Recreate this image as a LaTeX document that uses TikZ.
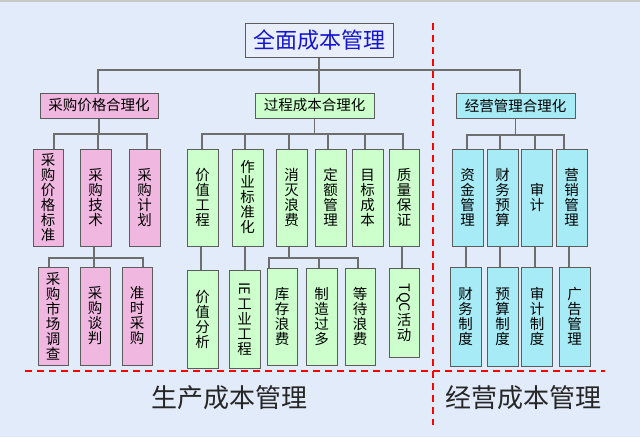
\documentclass[tikz,border=0pt]{standalone}
\usepackage{fontspec}
\usepackage{graphicx}
\setmainfont{Noto Sans CJK SC}
\definecolor{bgc}{HTML}{E2EBFA}
\definecolor{topfill}{HTML}{E8EFFB}
\definecolor{pinkc}{HTML}{F0B8E0}
\definecolor{greenc}{HTML}{CCFFCC}
\definecolor{cyanc}{HTML}{A6EBF5}
\definecolor{boxline}{HTML}{5C5C5C}
\definecolor{connc}{HTML}{6E6E6E}
\definecolor{topblue}{HTML}{1414D2}
\begin{document}
\begin{tikzpicture}[x=1pt,y=-1pt,
  box/.style={draw=boxline,line width=1pt,inner sep=0pt,align=center,
    font=\fontsize{14.5}{15}\selectfont},
  hb/.style={box,minimum width=119pt,minimum height=25pt},
  vb/.style={box,minimum width=31pt,minimum height=97pt},
  pk/.style={fill=pinkc},
  gr/.style={fill=greenc},
  cy/.style={fill=cyanc},
  conn/.style={draw=connc,line width=1.3pt},
  reddash/.style={draw=red,line width=2.2pt,dash pattern=on 7pt off 5pt},
  bottomlabel/.style={font=\fontsize{26}{26}\selectfont,text=black!85,inner sep=0pt}]
\useasboundingbox (0,0) rectangle (640,437);
\fill[bgc] (0,0) rectangle (640,437);
\fill[black!22] (0,0) rectangle (640,2);

% top
\node[box,fill=topfill,minimum width=148pt,minimum height=34pt,
  font=\fontsize{22}{22}\selectfont,text=topblue] (top) at (319,40) {全面成本管理};

% level 2
\node[hb,pk,minimum width=118pt] (cg) at (99,105.5) {采购价格合理化};
\node[hb,gr] (gc) at (314.5,105.5) {过程成本合理化};
\node[hb,cy] (jy) at (515.5,105.5) {经营管理合理化};

% level 3 pink
\node[vb,pk,minimum width=30pt] (p1) at (48,197.5) {采\\购\\价\\格\\标\\准};
\node[vb,pk] (p2) at (95.5,197.5) {采\\购\\技\\术};
\node[vb,pk] (p3) at (144.5,197.5) {采\\购\\计\\划};
% level 3 green
\node[vb,gr] (g1) at (202.5,197.5) {价\\值\\工\\程};
\node[vb,gr] (g2) at (247.5,197.5) {作\\业\\标\\准\\化};
\node[vb,gr] (g3) at (291.5,197.5) {消\\灭\\浪\\费};
\node[vb,gr] (g4) at (330.5,197.5) {定\\额\\管\\理};
\node[vb,gr] (g5) at (367.5,197.5) {目\\标\\成\\本};
\node[vb,gr,minimum width=30pt] (g6) at (404,197.5) {质\\量\\保\\证};
% level 3 cyan
\node[vb,cy] (c1) at (467.5,197.5) {资\\金\\管\\理};
\node[vb,cy] (c2) at (502.5,197.5) {财\\务\\预\\算};
\node[vb,cy] (c3) at (537,197.5) {审\\计};
\node[vb,cy] (c4) at (571.5,197.5) {营\\销\\管\\理};

% level 4 pink
\node[vb,pk,minimum width=30pt,minimum height=98pt] (q1) at (53,316) {采\\购\\市\\场\\调\\查};
\node[vb,pk,minimum width=30pt,minimum height=98pt] (q2) at (95,316) {采\\购\\谈\\判};
\node[vb,pk,minimum width=30pt,minimum height=98pt] (q3) at (137,316) {准\\时\\采\\购};
% level 4 green
\node[vb,gr,minimum height=98pt] (h1) at (202.5,319) {价\\值\\分\\析};
\node[vb,gr,minimum height=98pt] (h2) at (244.5,319) {\rotatebox[origin=c]{-90}{IE}\\工\\业\\工\\程};
\node[vb,gr,minimum width=30pt] (h3) at (282,316.5) {库\\存\\浪\\费};
\node[vb,gr] (h4) at (321.5,316.5) {制\\造\\过\\多};
\node[vb,gr,minimum width=30pt] (h5) at (360,316.5) {等\\待\\浪\\费};
\node[vb,gr,minimum width=30pt,minimum height=89pt] (h6) at (404,312.5) {\rotatebox[origin=c]{-90}{TQC}\\活\\动};
% level 4 cyan
\node[vb,cy,minimum height=99pt] (k1) at (465.5,316.5) {财\\务\\制\\度};
\node[vb,cy,minimum height=99pt] (k2) at (502.5,316.5) {预\\算\\制\\度};
\node[vb,cy,minimum height=99pt] (k3) at (537,316.5) {审\\计\\制\\度};
\node[vb,cy,minimum height=99pt] (k4) at (574.5,316.5) {广\\告\\管\\理};

% connectors top -> level 2
\coordinate (bL) at (98,70);
\coordinate (bR) at (520,70);
\draw[conn] (top.south) -- (top.south |- gc.north);
\draw[conn] (bL |- cg.north) -- (bL) -- (bR) -- (bR |- jy.north);

% pink level 2 -> 3
\coordinate (pd1) at (54,134);
\coordinate (pd2) at (98,134);
\coordinate (pd3) at (147,134);
\draw[conn] (cg.south) -- (cg.south |- pd2);
\draw[conn] (pd1 |- p1.north) -- (pd1) -- (pd3) -- (pd3 |- p3.north);
\draw[conn] (pd2) -- (pd2 |- p2.north);

% green level 2 -> 3
\coordinate (gd1) at (202,134);
\coordinate (gd2) at (245,134);
\coordinate (gd3) at (289,134);
\coordinate (gd4) at (328,134);
\coordinate (gd5) at (365,134);
\coordinate (gd6) at (403,134);
\draw[conn] (gc.south) -- (gc.south |- gd1);
\draw[conn] (gd1 |- g1.north) -- (gd1) -- (gd6) -- (gd6 |- g6.north);
\draw[conn] (gd2) -- (gd2 |- g2.north);
\draw[conn] (gd3) -- (gd3 |- g3.north);
\draw[conn] (gd4) -- (gd4 |- g4.north);
\draw[conn] (gd5) -- (gd5 |- g5.north);

% cyan level 2 -> 3
\coordinate (cd1) at (467,135);
\coordinate (cd2) at (500,135);
\coordinate (cd3) at (535,135);
\coordinate (cd4) at (564,135);
\draw[conn] (jy.south) -- (jy.south |- cd1);
\draw[conn] (cd1 |- c1.north) -- (cd1) -- (cd4) -- (cd4 |- c4.north);
\draw[conn] (cd2) -- (cd2 |- c2.north);
\draw[conn] (cd3) -- (cd3 |- c3.north);

% pink level 3 -> 4
\coordinate (qd1) at (49,258);
\coordinate (qd2) at (94,258);
\coordinate (qd3) at (143,258);
\draw[conn] (qd2 |- p2.south) -- (qd2 |- q2.north);
\draw[conn] (qd1 |- q1.north) -- (qd1) -- (qd3) -- (qd3 |- q3.north);

% green level 3 -> 4
\coordinate (hx1) at (201,258);
\coordinate (hx2) at (245,258);
\coordinate (hx6) at (402,258);
\draw[conn] (hx1 |- g1.south) -- (hx1 |- h1.north);
\draw[conn] (hx2 |- g2.south) -- (hx2 |- h2.north);
\draw[conn] (hx6 |- g6.south) -- (hx6 |- h6.north);
\coordinate (hd0) at (289,258);
\coordinate (hd3) at (269,258);
\coordinate (hd4) at (319,258);
\coordinate (hd5) at (358,258);
\draw[conn] (hd0 |- g3.south) -- (hd0);
\draw[conn] (hd3 |- h3.north) -- (hd3) -- (hd5) -- (hd5 |- h5.north);
\draw[conn] (hd4) -- (hd4 |- h4.north);

% cyan level 3 -> 4
\coordinate (kx1) at (466,258);
\coordinate (kx2) at (500,258);
\coordinate (kx3) at (535,258);
\coordinate (kx4) at (569,258);
\draw[conn] (kx1 |- c1.south) -- (kx1 |- k1.north);
\draw[conn] (kx2 |- c2.south) -- (kx2 |- k2.north);
\draw[conn] (kx3 |- c3.south) -- (kx3 |- k3.north);
\draw[conn] (kx4 |- c4.south) -- (kx4 |- k4.north);

% red dashed divisions
\coordinate (vt) at (433,23);
\coordinate (vb) at (433,425);
\coordinate (hl) at (25,371);
\coordinate (hr) at (605,371);
\draw[reddash] (vt) -- (vb);
\draw[reddash] (hl) -- (hr);

% bottom labels
\node[bottomlabel] (lp) at (229,398) {生产成本管理};
\node[bottomlabel] (lj) at (523,398) {经营成本管理};
\end{tikzpicture}
\end{document}
